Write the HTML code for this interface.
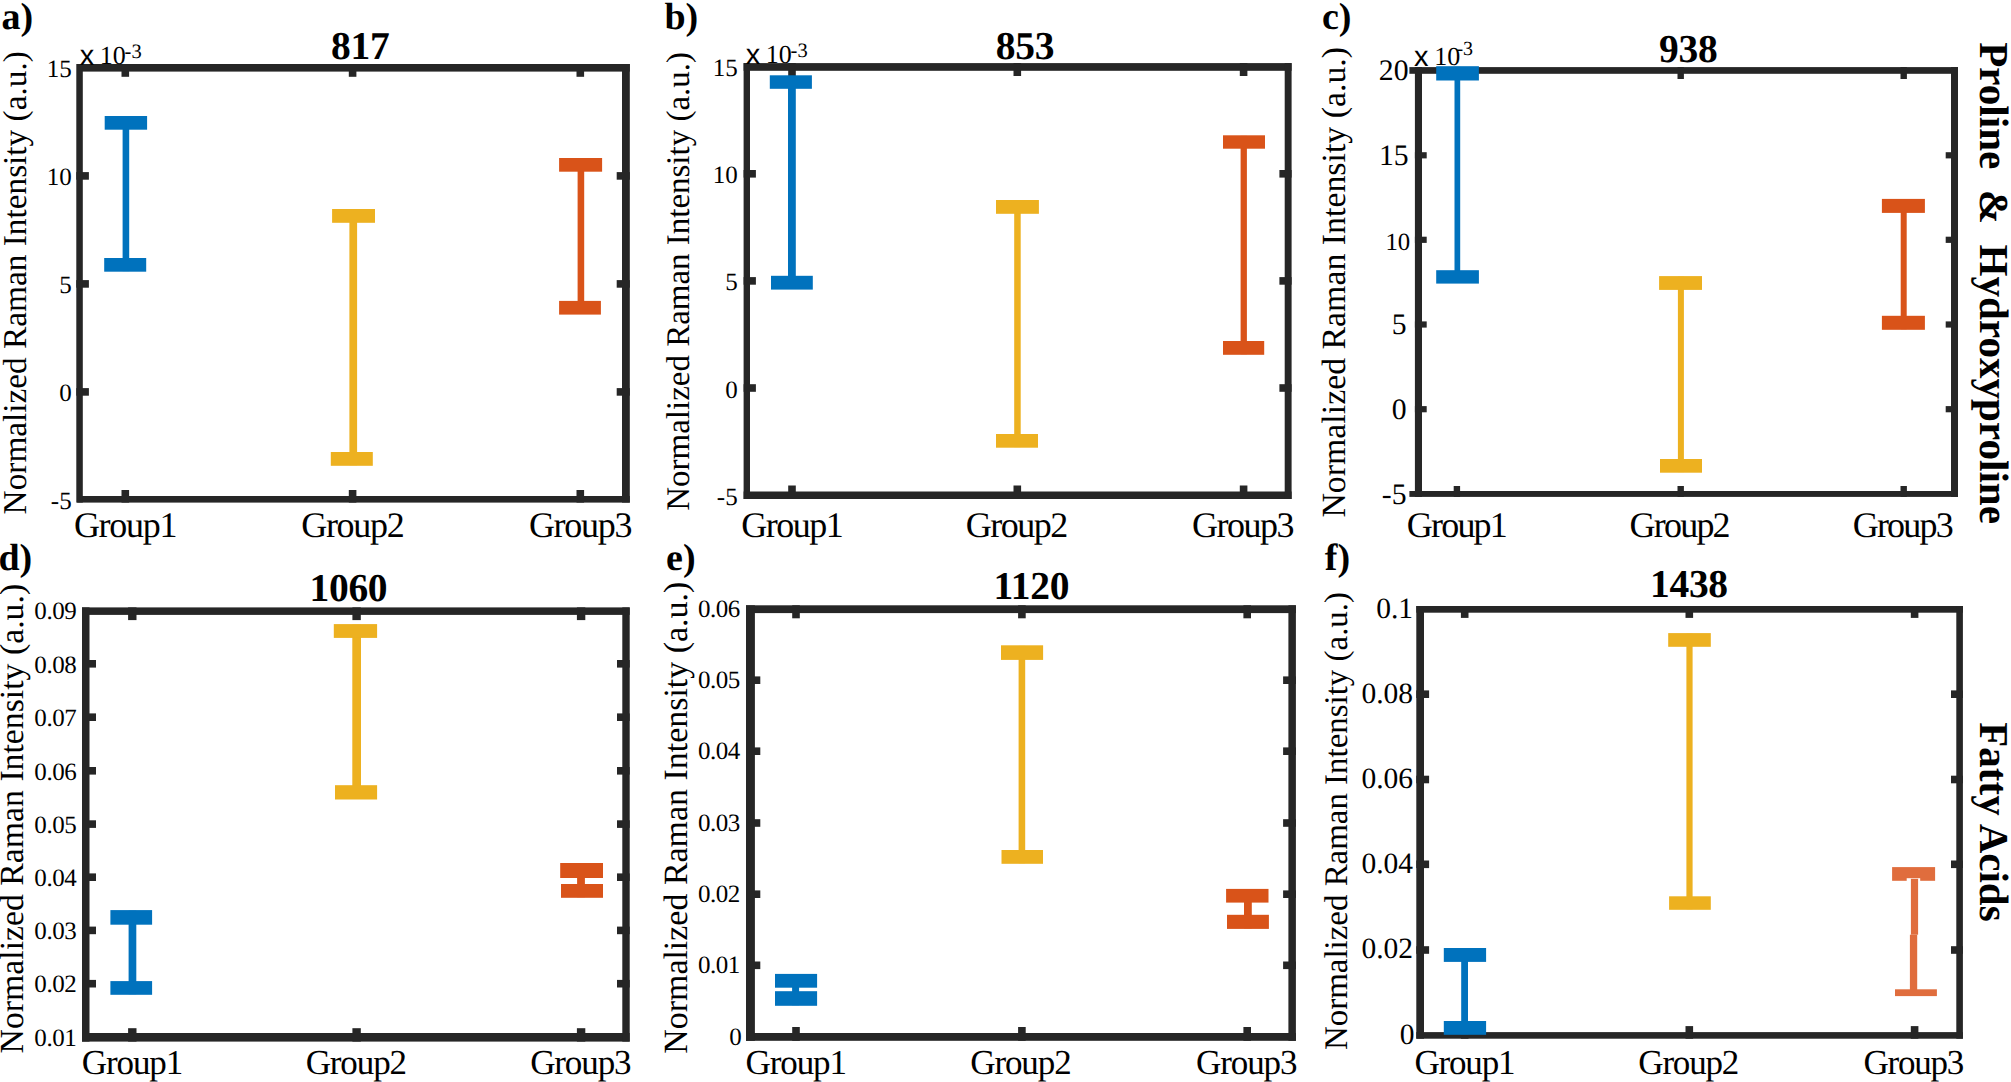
<!DOCTYPE html>
<html><head><meta charset="utf-8"><title>Raman intensity error bars</title>
<style>
html,body{margin:0;padding:0;background:#fff;}
body{width:2011px;height:1082px;overflow:hidden;}
svg{display:block;font-family:"Liberation Serif","Times New Roman",serif;fill:#000;}
</style></head><body>
<svg width="2011" height="1082" viewBox="0 0 2011 1082" text-rendering="geometricPrecision">
<rect x="0" y="0" width="2011" height="1082" fill="#fff"/>
<rect x="121.5" y="64.0" width="7.6" height="12.8" fill="#262626"/>
<rect x="121.5" y="490.0" width="7.6" height="12.6" fill="#262626"/>
<rect x="348.8" y="64.0" width="7.6" height="12.8" fill="#262626"/>
<rect x="348.8" y="490.0" width="7.6" height="12.6" fill="#262626"/>
<rect x="576.5" y="64.0" width="7.6" height="12.8" fill="#262626"/>
<rect x="576.5" y="490.0" width="7.6" height="12.6" fill="#262626"/>
<rect x="76.3" y="172.1" width="12.6" height="7.6" fill="#262626"/>
<rect x="616.7" y="172.1" width="13.1" height="7.6" fill="#262626"/>
<rect x="76.3" y="280.1" width="12.6" height="7.6" fill="#262626"/>
<rect x="616.7" y="280.1" width="13.1" height="7.6" fill="#262626"/>
<rect x="76.3" y="388.1" width="12.6" height="7.6" fill="#262626"/>
<rect x="616.7" y="388.1" width="13.1" height="7.6" fill="#262626"/>
<rect x="77.2" y="64.0" width="552.6" height="7.6" fill="#262626"/>
<rect x="77.2" y="496.0" width="552.6" height="6.6" fill="#262626"/>
<rect x="76.3" y="64.0" width="6.5" height="438.6" fill="#262626"/>
<rect x="622.0" y="64.0" width="7.8" height="438.6" fill="#262626"/>
<rect x="122.6" y="116.6" width="6.6" height="154.5" fill="#0072BD"/>
<rect x="104.7" y="116.0" width="42.4" height="13.7" fill="#0072BD"/>
<rect x="104.2" y="258.0" width="42.0" height="13.7" fill="#0072BD"/>
<rect x="349.4" y="209.6" width="7.7" height="255.6" fill="#EDB120"/>
<rect x="332.1" y="209.0" width="42.9" height="13.8" fill="#EDB120"/>
<rect x="330.8" y="452.0" width="42.0" height="13.8" fill="#EDB120"/>
<rect x="577.6" y="158.6" width="6.6" height="155.4" fill="#D95319"/>
<rect x="559.1" y="158.0" width="43.0" height="13.7" fill="#D95319"/>
<rect x="559.1" y="300.9" width="41.8" height="13.7" fill="#D95319"/>
<text x="71.7" y="77.0" font-size="25" text-anchor="end">15</text>
<text x="71.7" y="185.0" font-size="25" text-anchor="end">10</text>
<text x="71.7" y="293.0" font-size="25" text-anchor="end">5</text>
<text x="71.7" y="401.0" font-size="25" text-anchor="end">0</text>
<text x="71.7" y="508.7" font-size="25" text-anchor="end">-5</text>
<text x="125.0" y="536.6" font-size="36" text-anchor="middle" letter-spacing="-1.3">Group1</text>
<text x="352.3" y="536.6" font-size="36" text-anchor="middle" letter-spacing="-1.3">Group2</text>
<text x="580.0" y="536.6" font-size="36" text-anchor="middle" letter-spacing="-1.3">Group3</text>
<text x="360.2" y="59.2" font-size="39.5" text-anchor="middle" font-weight="bold" letter-spacing="-0.3">817</text>
<text x="1.6" y="28.6" font-size="38" text-anchor="start" font-weight="bold">a)</text>
<text transform="translate(25.6,514.4) rotate(-90)" font-size="33.3">Normalized Raman Intensity (a.u.)</text>
<text x="79.7" y="65.1" font-size="29" font-family="Liberation Sans, Arial, sans-serif">x</text>
<text x="99.8" y="64.2" font-size="26">10</text>
<text x="124.6" y="57.6" font-size="20.5">-3</text>
<rect x="788.2" y="63.1" width="7.6" height="12.9" fill="#262626"/>
<rect x="788.2" y="485.5" width="7.6" height="13.5" fill="#262626"/>
<rect x="1013.5" y="63.1" width="7.6" height="12.9" fill="#262626"/>
<rect x="1013.5" y="485.5" width="7.6" height="13.5" fill="#262626"/>
<rect x="1239.8" y="63.1" width="7.6" height="12.9" fill="#262626"/>
<rect x="1239.8" y="485.5" width="7.6" height="13.5" fill="#262626"/>
<rect x="743.6" y="170.0" width="12.3" height="7.6" fill="#262626"/>
<rect x="1279.4" y="170.0" width="12.2" height="7.6" fill="#262626"/>
<rect x="743.6" y="277.1" width="12.3" height="7.6" fill="#262626"/>
<rect x="1279.4" y="277.1" width="12.2" height="7.6" fill="#262626"/>
<rect x="743.6" y="384.2" width="12.3" height="7.6" fill="#262626"/>
<rect x="1279.4" y="384.2" width="12.2" height="7.6" fill="#262626"/>
<rect x="743.6" y="63.1" width="548.0" height="7.7" fill="#262626"/>
<rect x="743.6" y="491.5" width="548.0" height="7.5" fill="#262626"/>
<rect x="743.6" y="63.1" width="6.4" height="435.9" fill="#262626"/>
<rect x="1284.7" y="63.1" width="6.9" height="435.9" fill="#262626"/>
<rect x="788.0" y="75.9" width="7.8" height="213.1" fill="#0072BD"/>
<rect x="769.8" y="75.3" width="42.1" height="13.5" fill="#0072BD"/>
<rect x="771.0" y="275.8" width="41.8" height="13.8" fill="#0072BD"/>
<rect x="1014.2" y="200.6" width="6.5" height="246.5" fill="#EDB120"/>
<rect x="996.0" y="200.0" width="42.9" height="13.8" fill="#EDB120"/>
<rect x="996.0" y="434.0" width="42.0" height="13.7" fill="#EDB120"/>
<rect x="1240.6" y="135.9" width="6.3" height="218.3" fill="#D95319"/>
<rect x="1223.0" y="135.3" width="42.0" height="13.4" fill="#D95319"/>
<rect x="1223.0" y="341.0" width="41.2" height="13.8" fill="#D95319"/>
<text x="737.7" y="76.4" font-size="25" text-anchor="end">15</text>
<text x="737.7" y="183.3" font-size="25" text-anchor="end">10</text>
<text x="737.7" y="290.4" font-size="25" text-anchor="end">5</text>
<text x="737.7" y="397.5" font-size="25" text-anchor="end">0</text>
<text x="737.7" y="504.7" font-size="25" text-anchor="end">-5</text>
<text x="791.7" y="536.6" font-size="36" text-anchor="middle" letter-spacing="-1.5">Group1</text>
<text x="1016.3" y="536.6" font-size="36" text-anchor="middle" letter-spacing="-1.5">Group2</text>
<text x="1242.6" y="536.6" font-size="36" text-anchor="middle" letter-spacing="-1.5">Group3</text>
<text x="1025.0" y="58.7" font-size="39.5" text-anchor="middle" font-weight="bold" letter-spacing="-0.3">853</text>
<text x="664.4" y="28.7" font-size="38" text-anchor="start" font-weight="bold">b)</text>
<text transform="translate(688.8,510.7) rotate(-90)" font-size="32.98">Normalized Raman Intensity (a.u.)</text>
<text x="745.7" y="64.3" font-size="29" font-family="Liberation Sans, Arial, sans-serif">x</text>
<text x="765.8" y="63.4" font-size="26">10</text>
<text x="790.6" y="56.8" font-size="20.5">-3</text>
<rect x="1453.7" y="67.1" width="6.4" height="11.9" fill="#262626"/>
<rect x="1453.7" y="486.0" width="6.4" height="10.9" fill="#262626"/>
<rect x="1677.5" y="67.1" width="6.4" height="11.9" fill="#262626"/>
<rect x="1677.5" y="486.0" width="6.4" height="10.9" fill="#262626"/>
<rect x="1900.5" y="67.1" width="6.4" height="11.9" fill="#262626"/>
<rect x="1900.5" y="486.0" width="6.4" height="10.9" fill="#262626"/>
<rect x="1414.9" y="152.2" width="11.8" height="6.2" fill="#262626"/>
<rect x="1945.7" y="152.2" width="12.3" height="6.2" fill="#262626"/>
<rect x="1414.9" y="236.7" width="11.8" height="6.2" fill="#262626"/>
<rect x="1945.7" y="236.7" width="12.3" height="6.2" fill="#262626"/>
<rect x="1414.9" y="321.4" width="11.8" height="6.2" fill="#262626"/>
<rect x="1945.7" y="321.4" width="12.3" height="6.2" fill="#262626"/>
<rect x="1414.9" y="406.1" width="11.8" height="6.2" fill="#262626"/>
<rect x="1945.7" y="406.1" width="12.3" height="6.2" fill="#262626"/>
<rect x="1409.4" y="67.1" width="548.6" height="6.7" fill="#262626"/>
<rect x="1409.4" y="491.0" width="548.6" height="5.9" fill="#262626"/>
<rect x="1414.9" y="67.1" width="7.1" height="429.8" fill="#262626"/>
<rect x="1951.0" y="67.1" width="7.0" height="429.8" fill="#262626"/>
<rect x="1454.5" y="66.8" width="5.7" height="216.2" fill="#0072BD"/>
<rect x="1436.2" y="66.2" width="42.7" height="14.3" fill="#0072BD"/>
<rect x="1436.2" y="270.2" width="42.7" height="13.4" fill="#0072BD"/>
<rect x="1677.9" y="276.7" width="6.0" height="195.4" fill="#EDB120"/>
<rect x="1659.1" y="276.1" width="42.9" height="13.8" fill="#EDB120"/>
<rect x="1660.0" y="459.0" width="42.0" height="13.7" fill="#EDB120"/>
<rect x="1900.7" y="199.5" width="6.0" height="129.7" fill="#D95319"/>
<rect x="1881.9" y="198.9" width="43.0" height="14.0" fill="#D95319"/>
<rect x="1881.9" y="315.8" width="43.0" height="14.0" fill="#D95319"/>
<text x="1408.5" y="80.4" font-size="29.7" text-anchor="end">20</text>
<text x="1408.6" y="165.0" font-size="29.7" text-anchor="end">15</text>
<text x="1410.2" y="249.7" font-size="24.8" text-anchor="end">10</text>
<text x="1406.5" y="334.2" font-size="29.7" text-anchor="end">5</text>
<text x="1406.5" y="418.9" font-size="29.7" text-anchor="end">0</text>
<text x="1406.5" y="503.7" font-size="29.7" text-anchor="end">-5</text>
<text x="1456.4" y="536.6" font-size="36" text-anchor="middle" letter-spacing="-1.8">Group1</text>
<text x="1679.2" y="536.6" font-size="36" text-anchor="middle" letter-spacing="-1.8">Group2</text>
<text x="1902.3" y="536.6" font-size="36" text-anchor="middle" letter-spacing="-1.8">Group3</text>
<text x="1688.2" y="61.6" font-size="39.5" text-anchor="middle" font-weight="bold" letter-spacing="-0.3">938</text>
<text x="1322.0" y="28.6" font-size="38" text-anchor="start" font-weight="bold">c)</text>
<text transform="translate(1344.6,517.6) rotate(-90)" font-size="33.85">Normalized Raman Intensity (a.u.)</text>
<text x="1414.1" y="65.5" font-size="29" font-family="Liberation Sans, Arial, sans-serif">x</text>
<text x="1434.2" y="64.6" font-size="26">10</text>
<text x="1456.4" y="54.9" font-size="20">-3</text>
<rect x="128.1" y="607.4" width="8.4" height="12.7" fill="#262626"/>
<rect x="128.1" y="1028.2" width="8.4" height="13.4" fill="#262626"/>
<rect x="352.4" y="607.4" width="8.4" height="12.7" fill="#262626"/>
<rect x="352.4" y="1028.2" width="8.4" height="13.4" fill="#262626"/>
<rect x="576.9" y="607.4" width="8.4" height="12.7" fill="#262626"/>
<rect x="576.9" y="1028.2" width="8.4" height="13.4" fill="#262626"/>
<rect x="82.0" y="660.0" width="14.0" height="7.6" fill="#262626"/>
<rect x="617.0" y="660.0" width="12.7" height="7.6" fill="#262626"/>
<rect x="82.0" y="713.4" width="14.0" height="7.6" fill="#262626"/>
<rect x="617.0" y="713.4" width="12.7" height="7.6" fill="#262626"/>
<rect x="82.0" y="767.0" width="14.0" height="7.6" fill="#262626"/>
<rect x="617.0" y="767.0" width="12.7" height="7.6" fill="#262626"/>
<rect x="82.0" y="820.3" width="14.0" height="7.6" fill="#262626"/>
<rect x="617.0" y="820.3" width="12.7" height="7.6" fill="#262626"/>
<rect x="82.0" y="873.4" width="14.0" height="7.6" fill="#262626"/>
<rect x="617.0" y="873.4" width="12.7" height="7.6" fill="#262626"/>
<rect x="82.0" y="926.6" width="14.0" height="7.6" fill="#262626"/>
<rect x="617.0" y="926.6" width="12.7" height="7.6" fill="#262626"/>
<rect x="82.0" y="979.9" width="14.0" height="7.6" fill="#262626"/>
<rect x="617.0" y="979.9" width="12.7" height="7.6" fill="#262626"/>
<rect x="82.0" y="607.4" width="547.7" height="7.5" fill="#262626"/>
<rect x="82.0" y="1033.0" width="547.7" height="8.6" fill="#262626"/>
<rect x="82.0" y="607.4" width="7.5" height="434.2" fill="#262626"/>
<rect x="622.3" y="607.4" width="7.4" height="434.2" fill="#262626"/>
<rect x="128.6" y="910.7" width="7.7" height="83.5" fill="#0072BD"/>
<rect x="110.4" y="910.1" width="41.7" height="14.6" fill="#0072BD"/>
<rect x="110.4" y="981.1" width="41.7" height="13.7" fill="#0072BD"/>
<rect x="352.3" y="624.7" width="8.7" height="174.2" fill="#EDB120"/>
<rect x="333.8" y="624.1" width="43.3" height="13.8" fill="#EDB120"/>
<rect x="335.0" y="785.2" width="42.1" height="14.3" fill="#EDB120"/>
<rect x="577.1" y="863.6" width="7.8" height="33.6" fill="#D95319"/>
<rect x="560.2" y="863.0" width="42.8" height="15.0" fill="#D95319"/>
<rect x="561.0" y="884.0" width="42.0" height="13.8" fill="#D95319"/>
<text x="76.3" y="619.2" font-size="25" text-anchor="end" letter-spacing="-0.45">0.09</text>
<text x="76.3" y="672.5" font-size="25" text-anchor="end" letter-spacing="-0.45">0.08</text>
<text x="76.3" y="725.9" font-size="25" text-anchor="end" letter-spacing="-0.45">0.07</text>
<text x="76.3" y="779.5" font-size="25" text-anchor="end" letter-spacing="-0.45">0.06</text>
<text x="76.3" y="832.8" font-size="25" text-anchor="end" letter-spacing="-0.45">0.05</text>
<text x="76.3" y="885.9" font-size="25" text-anchor="end" letter-spacing="-0.45">0.04</text>
<text x="76.3" y="939.1" font-size="25" text-anchor="end" letter-spacing="-0.45">0.03</text>
<text x="76.3" y="992.4" font-size="25" text-anchor="end" letter-spacing="-0.45">0.02</text>
<text x="76.3" y="1046.0" font-size="25" text-anchor="end" letter-spacing="-0.45">0.01</text>
<text x="132.0" y="1074.4" font-size="35" text-anchor="middle" letter-spacing="-1.1">Group1</text>
<text x="355.8" y="1074.4" font-size="35" text-anchor="middle" letter-spacing="-1.1">Group2</text>
<text x="580.3" y="1074.4" font-size="35" text-anchor="middle" letter-spacing="-1.1">Group3</text>
<text x="348.4" y="601.2" font-size="39.5" text-anchor="middle" font-weight="bold" letter-spacing="-0.3">1060</text>
<text x="-1.6" y="569.8" font-size="38" text-anchor="start" font-weight="bold">d)</text>
<text transform="translate(22.8,1053.4) rotate(-90)" font-size="33.75">Normalized Raman Intensity (a.u.)</text>
<rect x="792.2" y="605.3" width="7.6" height="13.0" fill="#262626"/>
<rect x="792.2" y="1027.0" width="7.6" height="13.8" fill="#262626"/>
<rect x="1018.1" y="605.3" width="7.6" height="13.0" fill="#262626"/>
<rect x="1018.1" y="1027.0" width="7.6" height="13.8" fill="#262626"/>
<rect x="1243.4" y="605.3" width="7.6" height="13.0" fill="#262626"/>
<rect x="1243.4" y="1027.0" width="7.6" height="13.8" fill="#262626"/>
<rect x="746.0" y="676.4" width="14.3" height="7.6" fill="#262626"/>
<rect x="1283.1" y="676.4" width="12.8" height="7.6" fill="#262626"/>
<rect x="746.0" y="747.4" width="14.3" height="7.6" fill="#262626"/>
<rect x="1283.1" y="747.4" width="12.8" height="7.6" fill="#262626"/>
<rect x="746.0" y="819.2" width="14.3" height="7.6" fill="#262626"/>
<rect x="1283.1" y="819.2" width="12.8" height="7.6" fill="#262626"/>
<rect x="746.0" y="890.4" width="14.3" height="7.6" fill="#262626"/>
<rect x="1283.1" y="890.4" width="12.8" height="7.6" fill="#262626"/>
<rect x="746.0" y="961.5" width="14.3" height="7.6" fill="#262626"/>
<rect x="1283.1" y="961.5" width="12.8" height="7.6" fill="#262626"/>
<rect x="746.0" y="605.3" width="549.9" height="7.8" fill="#262626"/>
<rect x="746.0" y="1033.0" width="549.9" height="7.8" fill="#262626"/>
<rect x="746.0" y="605.3" width="8.9" height="435.5" fill="#262626"/>
<rect x="1288.4" y="605.3" width="7.5" height="435.5" fill="#262626"/>
<rect x="792.1" y="974.5" width="7.0" height="30.7" fill="#0072BD"/>
<rect x="775.0" y="973.9" width="42.1" height="13.8" fill="#0072BD"/>
<rect x="775.0" y="991.2" width="42.1" height="14.6" fill="#0072BD"/>
<rect x="1018.6" y="645.9" width="6.6" height="217.3" fill="#EDB120"/>
<rect x="1001.0" y="645.3" width="42.1" height="14.6" fill="#EDB120"/>
<rect x="1001.5" y="850.0" width="41.5" height="13.8" fill="#EDB120"/>
<rect x="1244.0" y="889.5" width="7.8" height="38.8" fill="#D95319"/>
<rect x="1226.1" y="888.9" width="42.4" height="13.7" fill="#D95319"/>
<rect x="1227.0" y="914.8" width="41.9" height="14.1" fill="#D95319"/>
<text x="739.9" y="617.2" font-size="25" text-anchor="end" letter-spacing="-0.45">0.06</text>
<text x="739.9" y="688.2" font-size="25" text-anchor="end" letter-spacing="-0.45">0.05</text>
<text x="739.9" y="759.2" font-size="25" text-anchor="end" letter-spacing="-0.45">0.04</text>
<text x="739.9" y="831.0" font-size="25" text-anchor="end" letter-spacing="-0.45">0.03</text>
<text x="739.9" y="902.2" font-size="25" text-anchor="end" letter-spacing="-0.45">0.02</text>
<text x="739.9" y="973.3" font-size="25" text-anchor="end" letter-spacing="-0.45">0.01</text>
<text x="741.7" y="1045.0" font-size="25" text-anchor="end">0</text>
<text x="795.7" y="1074.4" font-size="35" text-anchor="middle" letter-spacing="-1.1">Group1</text>
<text x="1020.4" y="1074.4" font-size="35" text-anchor="middle" letter-spacing="-1.1">Group2</text>
<text x="1246.2" y="1074.4" font-size="35" text-anchor="middle" letter-spacing="-1.1">Group3</text>
<text x="1031.3" y="599.1" font-size="39.5" text-anchor="middle" font-weight="bold" letter-spacing="-0.3">1120</text>
<text x="666.1" y="569.8" font-size="38" text-anchor="start" font-weight="bold">e)</text>
<text transform="translate(686.5,1053.8) rotate(-90)" font-size="33.95">Normalized Raman Intensity (a.u.)</text>
<rect x="1460.9" y="606.0" width="7.6" height="11.9" fill="#262626"/>
<rect x="1460.9" y="1026.1" width="7.6" height="12.6" fill="#262626"/>
<rect x="1685.5" y="606.0" width="7.6" height="11.9" fill="#262626"/>
<rect x="1685.5" y="1026.1" width="7.6" height="12.6" fill="#262626"/>
<rect x="1910.8" y="606.0" width="7.6" height="11.9" fill="#262626"/>
<rect x="1910.8" y="1026.1" width="7.6" height="12.6" fill="#262626"/>
<rect x="1416.3" y="690.4" width="12.8" height="7.6" fill="#262626"/>
<rect x="1951.0" y="690.4" width="11.9" height="7.6" fill="#262626"/>
<rect x="1416.3" y="775.7" width="12.8" height="7.6" fill="#262626"/>
<rect x="1951.0" y="775.7" width="11.9" height="7.6" fill="#262626"/>
<rect x="1416.3" y="860.5" width="12.8" height="7.6" fill="#262626"/>
<rect x="1951.0" y="860.5" width="11.9" height="7.6" fill="#262626"/>
<rect x="1416.3" y="946.2" width="12.8" height="7.6" fill="#262626"/>
<rect x="1951.0" y="946.2" width="11.9" height="7.6" fill="#262626"/>
<rect x="1416.3" y="606.0" width="546.6" height="6.7" fill="#262626"/>
<rect x="1416.3" y="1032.1" width="546.6" height="6.6" fill="#262626"/>
<rect x="1416.3" y="606.0" width="7.7" height="432.7" fill="#262626"/>
<rect x="1956.3" y="606.0" width="6.6" height="432.7" fill="#262626"/>
<rect x="1461.2" y="948.6" width="6.8" height="85.6" fill="#0072BD"/>
<rect x="1443.8" y="948.0" width="42.3" height="13.9" fill="#0072BD"/>
<rect x="1443.8" y="1021.0" width="42.3" height="13.8" fill="#0072BD"/>
<rect x="1686.4" y="633.7" width="6.2" height="275.5" fill="#EDB120"/>
<rect x="1668.2" y="633.1" width="42.6" height="13.7" fill="#EDB120"/>
<rect x="1669.1" y="896.3" width="41.7" height="13.5" fill="#EDB120"/>
<rect x="1892.1" y="867.1" width="43.0" height="13.7" fill="#E06D3D"/>
<rect x="1906.7" y="878.2" width="13.5" height="3.0" fill="#fff"/>
<rect x="1910.9" y="878.8" width="7.2" height="55.9" fill="#E06D3D"/>
<rect x="1909.9" y="934.7" width="7.3" height="55.3" fill="#E06D3D"/>
<rect x="1895.0" y="989.3" width="41.9" height="6.8" fill="#E06D3D"/>
<text x="1413.0" y="617.8" font-size="29.5" text-anchor="end">0.1</text>
<text x="1413.0" y="702.5" font-size="29.5" text-anchor="end">0.08</text>
<text x="1413.0" y="787.8" font-size="29.5" text-anchor="end">0.06</text>
<text x="1413.0" y="872.6" font-size="29.5" text-anchor="end">0.04</text>
<text x="1413.0" y="958.3" font-size="29.5" text-anchor="end">0.02</text>
<text x="1414.6" y="1043.9" font-size="29.5" text-anchor="end">0</text>
<text x="1464.4" y="1074.4" font-size="35" text-anchor="middle" letter-spacing="-1.2">Group1</text>
<text x="1688.2" y="1074.4" font-size="35" text-anchor="middle" letter-spacing="-1.2">Group2</text>
<text x="1913.3" y="1074.4" font-size="35" text-anchor="middle" letter-spacing="-1.2">Group3</text>
<text x="1688.9" y="597.1" font-size="39.5" text-anchor="middle" font-weight="bold" letter-spacing="-0.3">1438</text>
<text x="1324.8" y="569.8" font-size="38" text-anchor="start" font-weight="bold">f)</text>
<text transform="translate(1347.0,1050.0) rotate(-90)" font-size="32.93">Normalized Raman Intensity (a.u.)</text>
<text transform="translate(1979.5,42.2) rotate(90)" font-size="41.1" font-weight="bold" xml:space="preserve" style="white-space:pre">Proline  &amp;  Hydroxyproline</text>
<text transform="translate(1979.5,722.3) rotate(90)" font-size="41" font-weight="bold">Fatty Acids</text>
</svg>
</body></html>
